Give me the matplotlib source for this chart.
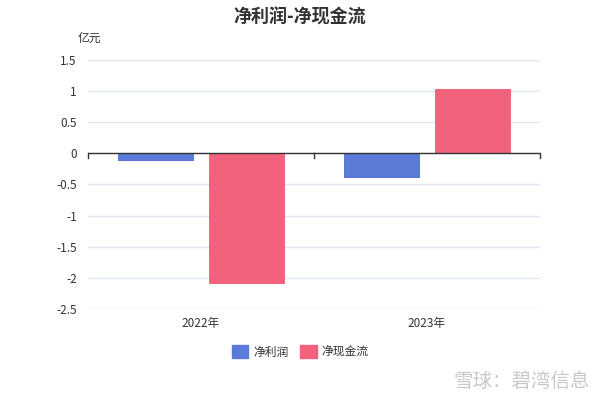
import numpy as np
import matplotlib.pyplot as plt
from matplotlib.patches import Patch

plt.rcParams['font.family'] = ['Noto Sans CJK SC', 'DejaVu Sans']

# ==================== 資料 ====================
years = ['2022年', '2023年']
net_profit = [-0.10, -0.38]      # 净利润 (亿元)
net_cash = [-2.08, 1.03]         # 净现金流 (亿元)
yticks = [1.5, 1, 0.5, 0, -0.5, -1, -1.5, -2, -2.5]

blue = '#5b7bd9'
red = '#f2627c'

fig = plt.figure(figsize=(6, 4), dpi=100)
ax = fig.add_axes([88 / 600, 1 - 309 / 400, 452 / 600, 249 / 400])

x = np.arange(len(years))
w = 0.332
ax.bar(x - 0.2, net_profit, w, color=blue, edgecolor='#4a6ad0', linewidth=0.6, zorder=3)
ax.bar(x + 0.2, net_cash, w, color=red, edgecolor='#ee5a75', linewidth=0.6, zorder=3)

ax.set_xlim(-0.5, 1.5)
ax.set_ylim(-2.5, 1.5)
ax.set_yticks(yticks)
ax.set_yticklabels([('%g' % v) for v in yticks])
ax.grid(axis='y', color='#e0e6f1', linewidth=1, zorder=0)
ax.axhline(0, color='#333333', linewidth=1, zorder=4)

# 類別分界刻度
for b in [-0.5, 0.5, 1.5]:
    ax.plot([b, b], [0, -0.08], color='#333333', linewidth=1, zorder=4, clip_on=False)

ax.set_xticks(x)
ax.set_xticklabels(years)
ax.tick_params(axis='x', length=0, pad=6, labelsize=8.5, colors='#333333')
ax.tick_params(axis='y', length=0, pad=8, labelsize=8.5, colors='#333333')
for s in ax.spines.values():
    s.set_visible(False)

fig.text(0.5, 1 - 17 / 400, '净利润-净现金流', ha='center', va='center',
         fontsize=13, fontweight='bold', color='#333333')
fig.text(89 / 600, 1 - 38 / 400, '亿元', ha='center', va='center',
         fontsize=8.5, color='#333333')

handles = [Patch(facecolor=blue, edgecolor=blue), Patch(facecolor=red, edgecolor=red)]
fig.legend(handles, ['净利润', '净现金流'], loc='center', bbox_to_anchor=(0.5, 1 - 352 / 400),
           ncol=2, frameon=False, fontsize=8.5, handlelength=1.4, handleheight=1.2,
           handletextpad=0.4, columnspacing=1.0, labelcolor='#333333')

fig.text(590 / 600, 1 - 381 / 400, '雪球：碧湾信息', ha='right', va='center',
         fontsize=14, color='#c8c8c8')

fig.savefig('out.png', dpi=100)
